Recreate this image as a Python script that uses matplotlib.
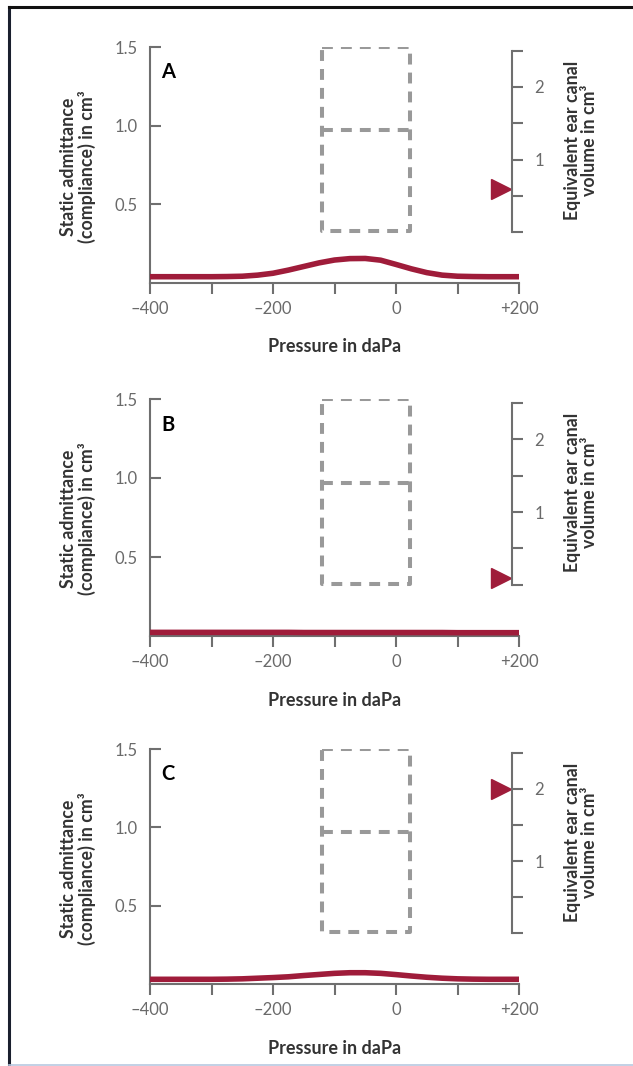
import matplotlib
matplotlib.use("Agg")
import matplotlib.pyplot as plt
from matplotlib import transforms
from matplotlib.lines import Line2D

W, H = 633, 1066

# Tympanogram readings (pressure in daPa, static admittance in cm3)
pressure = [-400, -375, -350, -325, -300, -275, -250, -225, -200, -175,
            -150, -125, -100, -75, -50, -25, 0, 25, 50, 75,
            100, 125, 150, 175, 200]
admittance_a = [0.040, 0.040, 0.040, 0.040, 0.040, 0.041, 0.043, 0.050, 0.062, 0.082,
                0.105, 0.128, 0.146, 0.155, 0.156, 0.145, 0.118, 0.090, 0.066, 0.050,
                0.043, 0.041, 0.040, 0.040, 0.040]
admittance_b = [0.023, 0.023, 0.023, 0.023, 0.023, 0.023, 0.023, 0.023, 0.023, 0.023,
                0.022, 0.022, 0.022, 0.022, 0.022, 0.022, 0.022, 0.022, 0.022, 0.022,
                0.021, 0.021, 0.021, 0.021, 0.021]
admittance_c = [0.030, 0.030, 0.030, 0.030, 0.030, 0.031, 0.033, 0.037, 0.041, 0.046,
                0.054, 0.061, 0.068, 0.072, 0.072, 0.068, 0.060, 0.051, 0.043, 0.037,
                0.033, 0.031, 0.030, 0.030, 0.030]
ear_volume = [0.6, 0.1, 2.0]
panel_names = ["A", "B", "C"]
curves = [admittance_a, admittance_b, admittance_c]

x_ticks = [-400, -300, -200, -100, 0, 100, 200]
x_tick_labels = ["\u2013400", "", "\u2013200", "", "0", "", "+200"]
y_ticks = [0.5, 1.0, 1.5]
y_tick_labels = ["0.5", "1.0", "1.5"]
vol_ticks = [0, 0.5, 1, 1.5, 2, 2.5]
vol_tick_labels = ["", "", "1", "", "2", ""]

# normal region box
box_pressure = [-120, 22]
box_admittance = [0.33, 0.97, 1.5]

# pixel rows of each panel (top of y=1.5, x axis line)
panel_rows = [(47, 283), (399, 636), (749, 984)]

CRIMSON = "#9f1c3a"
AXIS_GREY = "#6f6f6f"
TICK_TEXT = "#6a6a6a"
LABEL_TEXT = "#333333"
BOX_GREY = "#999999"

plt.rcParams["font.family"] = ["Lato", "DejaVu Sans"]

fig = plt.figure(figsize=(W / 100, H / 100), dpi=100)
fig.patch.set_facecolor("white")

# thin frame: black on top and left, pale blue at the bottom
fig.add_artist(Line2D([9 / W, 9 / W], [0, 1 - 7 / H], color="#1a1f2e", lw=2.2))
fig.add_artist(Line2D([9 / W, 1], [1 - 7 / H, 1 - 7 / H], color="#111111", lw=2.2))
fig.add_artist(Line2D([9 / W, 1], [1 / H, 1 / H], color="#b8c8e0", lw=1.2))


def fx(px):
    return px / W


def fy(py):
    return 1 - py / H


for name, vals, vol, (top, bottom) in zip(panel_names, curves, ear_volume, panel_rows):
    ax = fig.add_axes([fx(150), fy(bottom), (519 - 150) / W, (bottom - top) / H])
    ax.set_xlim(-400, 200)
    ax.set_ylim(0, 1.5)
    for s in ["top", "right"]:
        ax.spines[s].set_visible(False)
    for s in ["left", "bottom"]:
        ax.spines[s].set_color(AXIS_GREY)
        ax.spines[s].set_linewidth(1.5)

    ax.set_xticks(x_ticks)
    ax.set_xticklabels(x_tick_labels)
    ax.set_yticks(y_ticks)
    ax.set_yticklabels(y_tick_labels)
    ax.tick_params(axis="x", direction="out", length=8, width=1.5,
                   color=AXIS_GREY, labelcolor=TICK_TEXT, labelsize=12, pad=5)
    ax.tick_params(axis="y", direction="in", length=8, width=1.5,
                   color=AXIS_GREY, labelcolor=TICK_TEXT, labelsize=12, pad=9)

    # normal region box, dashed
    x0, x1 = box_pressure
    y0, ym, y1 = box_admittance
    dash = dict(color=BOX_GREY, lw=2.9, dashes=(2.7, 2.0), dash_capstyle="butt")
    ax.plot([x0, x1, x1, x0, x0], [y1, y1, y0, y0, y1], **dash)
    ax.plot([x0, x1], [ym, ym], **dash)

    ax.plot(pressure, vals, color=CRIMSON, lw=4.0, solid_capstyle="butt", zorder=5)

    ax.text(0.03, 0.892, name, transform=ax.transAxes, fontsize=14.5,
            fontweight="bold", color="black", va="center", ha="left")

    # equivalent ear canal volume scale
    ax2 = ax.twinx()
    ax2.set_ylim(-0.70, 2.55)
    for s in ["top", "left", "bottom"]:
        ax2.spines[s].set_visible(False)
    ax2.spines["right"].set_position(("axes", 0.981))
    ax2.spines["right"].set_bounds(0, 2.5)
    ax2.spines["right"].set_color(AXIS_GREY)
    ax2.spines["right"].set_linewidth(1.5)
    ax2.set_yticks(vol_ticks)
    ax2.set_yticklabels(vol_tick_labels)
    ax2.tick_params(axis="y", direction="out", length=8, width=1.5,
                    color=AXIS_GREY, labelcolor=TICK_TEXT, labelsize=12, pad=8)
    trans = transforms.blended_transform_factory(ax2.transAxes, ax2.transData)
    ax2.plot([0.952], [vol], marker=">", ms=14, color=CRIMSON, lw=0,
             transform=trans, clip_on=False)

    fig.text(fx(78), fy(top + 120), "Static admittance\n(compliance) in cm\u00b3",
             rotation=90, ha="center", va="center", fontsize=12.8,
             fontweight="bold", color=LABEL_TEXT, linespacing=1.0)
    fig.text(fx(581), fy(top + 93), "Equivalent ear canal\nvolume in cm\u00b3",
             rotation=90, ha="center", va="center", fontsize=12.8,
             fontweight="bold", color=LABEL_TEXT, linespacing=1.0)
    fig.text(fx(335), fy(bottom + 64), "Pressure in daPa", ha="center",
             va="center", fontsize=13, fontweight="bold", color=LABEL_TEXT)

fig.savefig("out.png", dpi=100)
